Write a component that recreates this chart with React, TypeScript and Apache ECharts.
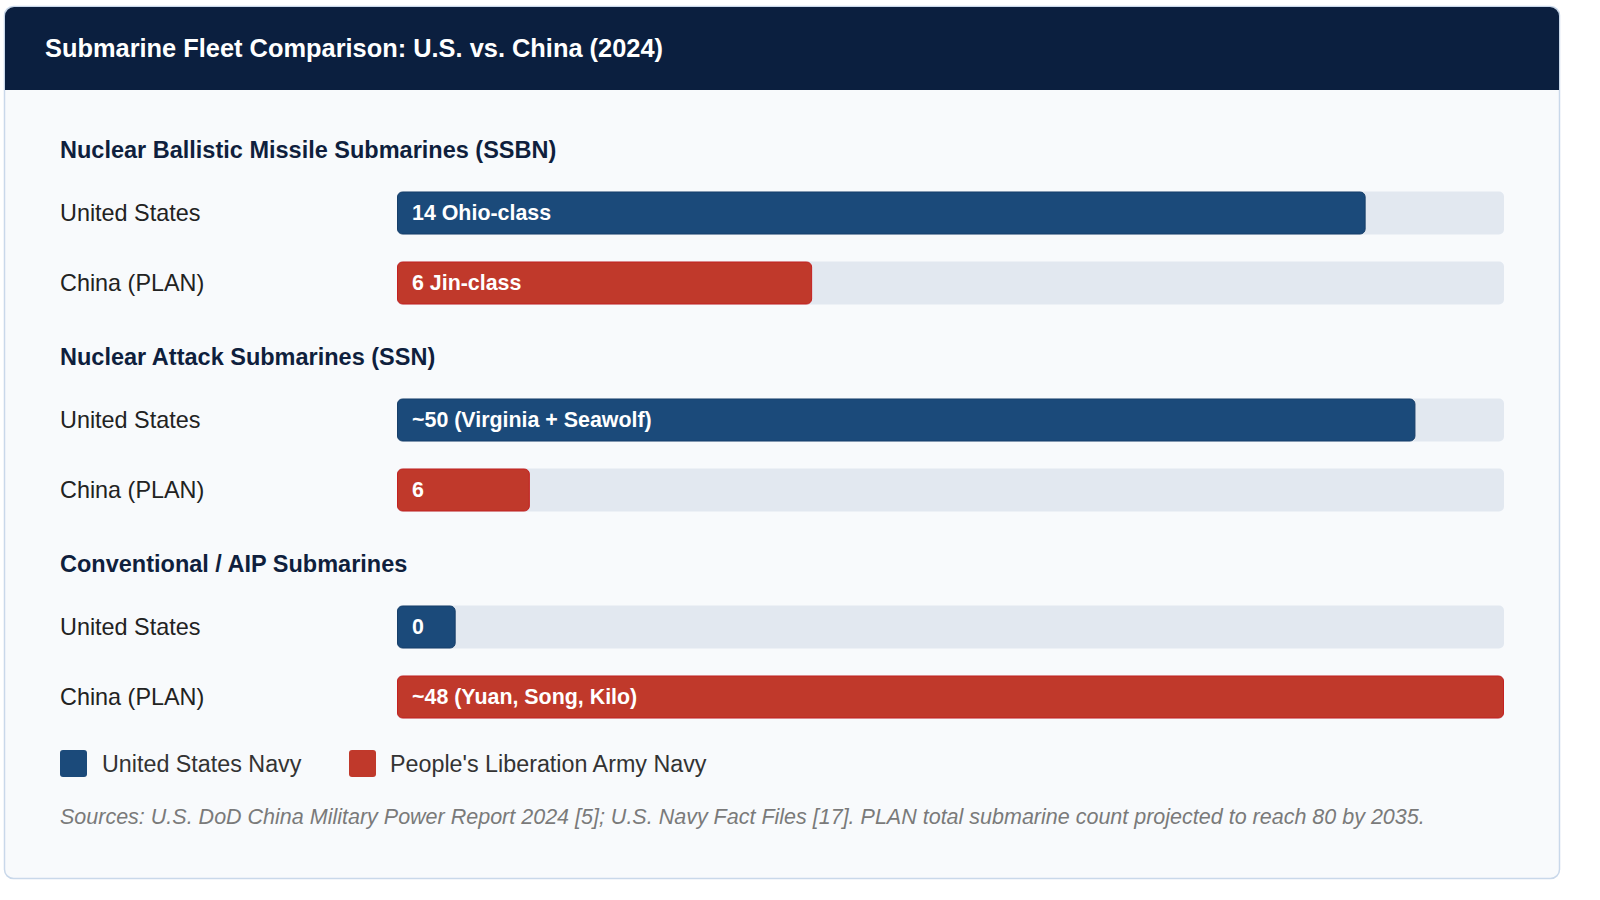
import React, { useEffect, useRef } from "react";
import * as echarts from "echarts";

const title = "Submarine Fleet Comparison: U.S. vs. China (2024)";
const groups = [
  "Nuclear Ballistic Missile Submarines (SSBN)",
  "Nuclear Attack Submarines (SSN)",
  "Conventional / AIP Submarines",
];
const countries = ["United States", "China (PLAN)"];
const usLabels = ["14 Ohio-class", "~50 (Virginia + Seawolf)", "0"];
const chinaLabels = ["6 Jin-class", "6", "~48 (Yuan, Song, Kilo)"];
// bar fill, percent of the track
const usFill = [87.5, 92, 5.3];
const chinaFill = [37.5, 12, 100];
const legendNames = ["United States Navy", "People's Liberation Army Navy"];
const sources =
  "Sources: U.S. DoD China Military Power Report 2024 [5]; U.S. Navy Fact Files [17]. PLAN total submarine count projected to reach 80 by 2035.";

const US_COLOR = "#1b4a7a";
const CN_COLOR = "#c0392b";
const TRACK = "#e2e8f0";
const FONT = "'Liberation Sans', Arial, sans-serif";

export default function App() {
  const ref = useRef<HTMLDivElement>(null);
  useEffect(() => {
    if (!ref.current) return;
    const chart = echarts.init(ref.current, null, { renderer: "svg" });
    const gridTops = [178, 385, 592];
    const headY = [150, 357, 564];
    const grids = gridTops.map((t) => ({ left: 397, right: 96, top: t, height: 140 }));
    const xAxes = gridTops.map((_, i) => ({
      type: "value",
      gridIndex: i,
      min: 0,
      max: 100,
      show: false,
    }));
    const yAxes = gridTops.map((_, i) => ({
      type: "category",
      gridIndex: i,
      inverse: true,
      data: countries,
      axisLine: { show: false },
      axisTick: { show: false },
      splitLine: { show: false },
      axisLabel: {
        align: "left",
        margin: 337,
        fontSize: 23.4,
        color: "#222222",
        fontFamily: FONT,
      },
    }));
    const series = gridTops.map((_, i) => ({
      type: "bar",
      xAxisIndex: i,
      yAxisIndex: i,
      barWidth: 43,
      showBackground: true,
      backgroundStyle: { color: TRACK, borderRadius: 5 },
      label: {
        show: true,
        position: "insideLeft",
        distance: 15,
        color: "#ffffff",
        fontWeight: "bold",
        fontSize: 21.4,
        fontFamily: FONT,
      },
      data: [
        {
          value: usFill[i],
          itemStyle: { color: US_COLOR, borderRadius: 5, borderColor: "#173f6a", borderWidth: 1 },
          label: { formatter: usLabels[i] },
        },
        {
          value: chinaFill[i],
          itemStyle: { color: CN_COLOR, borderRadius: 5, borderColor: "#c42121", borderWidth: 1 },
          label: { formatter: chinaLabels[i] },
        },
      ],
    }));
    const graphic: any[] = [
      {
        type: "rect",
        z: -10,
        shape: { x: 4.5, y: 6.5, width: 1555, height: 872, r: 9 },
        style: { fill: "#f8fafc", stroke: "#c9d8ea", lineWidth: 1.5 },
      },
      {
        type: "rect",
        z: -9,
        shape: { x: 5, y: 7, width: 1554, height: 83, r: [9, 9, 0, 0] },
        style: { fill: "#0b1f3f" },
      },
      {
        type: "text",
        z: 10,
        x: 45,
        y: 48,
        style: {
          text: title,
          fill: "#ffffff",
          font: `bold 25.4px ${FONT}`,
          verticalAlign: "middle",
        },
      },
      ...groups.map((g, i) => ({
        type: "text",
        z: 10,
        x: 60,
        y: headY[i],
        style: {
          text: g,
          fill: "#0f1f3d",
          font: `bold 23.5px ${FONT}`,
          verticalAlign: "middle",
        },
      })),
      {
        type: "rect",
        z: 10,
        shape: { x: 60, y: 750, width: 27, height: 27, r: 3 },
        style: { fill: US_COLOR },
      },
      {
        type: "text",
        z: 10,
        x: 102,
        y: 764,
        style: { text: legendNames[0], fill: "#333333", font: `23.3px ${FONT}`, verticalAlign: "middle" },
      },
      {
        type: "rect",
        z: 10,
        shape: { x: 349, y: 750, width: 27, height: 27, r: 3 },
        style: { fill: CN_COLOR },
      },
      {
        type: "text",
        z: 10,
        x: 390,
        y: 764,
        style: { text: legendNames[1], fill: "#333333", font: `23.3px ${FONT}`, verticalAlign: "middle" },
      },
      {
        type: "text",
        z: 10,
        x: 60,
        y: 817,
        style: { text: sources, fill: "#7a7a7a", font: `italic 21.5px ${FONT}`, verticalAlign: "middle" },
      },
    ];
    chart.setOption({
      animation: false,
      backgroundColor: "#ffffff",
      grid: grids,
      xAxis: xAxes,
      yAxis: yAxes,
      series,
      graphic,
    });
    return () => chart.dispose();
  }, []);
  return (
    <div
      ref={ref}
      style={{ position: "absolute", left: 0, top: 0, width: 1600, height: 900 }}
    />
  );
}
